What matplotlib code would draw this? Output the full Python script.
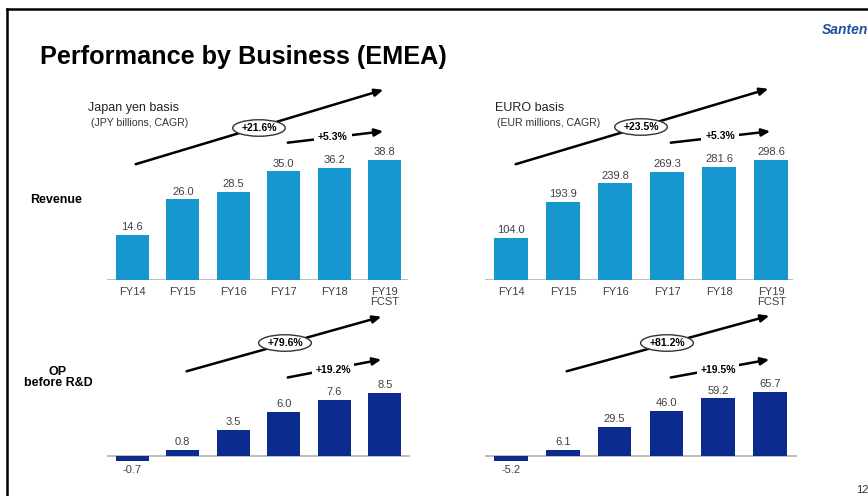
import matplotlib
matplotlib.use("Agg")
import matplotlib.pyplot as plt
from matplotlib.lines import Line2D

plt.rcParams['font.family'] = ['Liberation Sans', 'DejaVu Sans']

# ======================
# 数据
# ======================
years = ['FY14', 'FY15', 'FY16', 'FY17', 'FY18', 'FY19\nFCST']
rev_jpy = [14.6, 26.0, 28.5, 35.0, 36.2, 38.8]
rev_eur = [104.0, 193.9, 239.8, 269.3, 281.6, 298.6]
op_jpy = [-0.7, 0.8, 3.5, 6.0, 7.6, 8.5]
op_eur = [-5.2, 6.1, 29.5, 46.0, 59.2, 65.7]
cagr_long = ['+21.6%', '+23.5%', '+79.6%', '+81.2%']
cagr_short = ['+5.3%', '+5.3%', '+19.2%', '+19.5%']

W, H = 868, 496
REV_COLOR = '#1797cf'
OP_COLOR = '#0b2c8e'
LABEL_COLOR = '#404040'

fig = plt.figure(figsize=(W / 100, H / 100), dpi=100)


def fx(px):
    return px / W


def fy(py):
    return 1 - py / H


def make_axes(left, right, top, bottom, xlim, ylim):
    ax = fig.add_axes([fx(left), fy(bottom), fx(right - left), (bottom - top) / H])
    ax.set_xlim(*xlim)
    ax.set_ylim(*ylim)
    for s in ax.spines.values():
        s.set_visible(False)
    ax.set_yticks([])
    ax.patch.set_alpha(0)
    return ax


def draw_bars(ax, values, color, show_ticks):
    x = list(range(len(values)))
    ax.bar(x, values, width=0.65, color=color, zorder=2)
    ax.axhline(0, color='#b0b0b0', lw=1.2, zorder=1)
    for xi, v in zip(x, values):
        if v >= 0:
            ax.annotate(f'{v:.1f}', (xi, v), xytext=(0, 2), textcoords='offset points',
                        ha='center', va='bottom', fontsize=8, color=LABEL_COLOR)
        else:
            ax.annotate(f'{v:.1f}', (xi, v), xytext=(0, -3), textcoords='offset points',
                        ha='center', va='top', fontsize=8, color=LABEL_COLOR)
    if show_ticks:
        ax.set_xticks(x)
        ax.set_xticklabels(years, fontsize=8, color=LABEL_COLOR, linespacing=1.0)
        ax.tick_params(axis='x', length=0, pad=5)
    else:
        ax.set_xticks([])


# 上段：売上
ax1 = make_axes(107, 408, 150, 280, (-0.5, 5.46), (0, 41.9))
draw_bars(ax1, rev_jpy, REV_COLOR, True)
ax2 = make_axes(485, 793, 150, 280, (-0.5, 5.42), (0, 323))
draw_bars(ax2, rev_eur, REV_COLOR, True)

# 下段：OP before R&D
ax3 = make_axes(107, 410, 380, 470, (-0.5, 5.5), (-1.89, 10.27))
draw_bars(ax3, op_jpy, OP_COLOR, False)
ax4 = make_axes(485, 797, 380, 470, (-0.5, 5.52), (-14.4, 78.0))
draw_bars(ax4, op_eur, OP_COLOR, False)


# ======================
# CAGR 矢印
# ======================
def arrow(x0, y0, x1, y1):
    fig.add_artist(matplotlib.patches.FancyArrowPatch(
        (fx(x0), fy(y0)), (fx(x1), fy(y1)), transform=fig.transFigure,
        arrowstyle='-|>,head_length=5,head_width=2.2', color='black', lw=1.8,
        mutation_scale=1, zorder=5))


long_arrows = [(133, 165, 386, 89, 259, 128), (513, 165, 771, 88, 641, 127),
               (184, 372, 384, 316, 285, 343), (564, 372, 772, 315, 667, 343)]
short_arrows = [(285, 143, 386, 131, 333, 137), (668, 143, 773, 131, 720, 136),
                (285, 378, 384, 359, 333, 370), (668, 378, 772, 359, 718, 370)]

for (x0, y0, x1, y1, tx, ty), lab in zip(long_arrows, cagr_long):
    arrow(x0, y0, x1, y1)
    fig.text(fx(tx), fy(ty), lab, ha='center', va='center', fontsize=7.5, fontweight='bold',
             zorder=6, bbox=dict(boxstyle='ellipse,pad=0.08', fc='white', ec='#333333', lw=1.0))

for (x0, y0, x1, y1, tx, ty), lab in zip(short_arrows, cagr_short):
    arrow(x0, y0, x1, y1)
    fig.text(fx(tx), fy(ty), lab, ha='center', va='center', fontsize=7.5, fontweight='bold',
             zorder=6, bbox=dict(boxstyle='square,pad=0.35', fc='white', ec='none'))

# ======================
# テキスト
# ======================
fig.text(fx(40), fy(57), 'Performance by Business (EMEA)', fontsize=18.2, fontweight='bold',
         va='center', ha='left')
fig.text(fx(88), fy(108), 'Japan yen basis', fontsize=9, va='center', color='#222222')
fig.text(fx(91), fy(123), '(JPY billions, CAGR)', fontsize=7.6, va='center', color='#333333')
fig.text(fx(495), fy(108), 'EURO basis', fontsize=9, va='center', color='#222222')
fig.text(fx(497), fy(123), '(EUR millions, CAGR)', fontsize=7.6, va='center', color='#333333')
fig.text(fx(30), fy(200), 'Revenue', fontsize=9, fontweight='bold', va='center')
fig.text(fx(58), fy(372), 'OP', fontsize=9, fontweight='bold', va='center', ha='center')
fig.text(fx(58), fy(383), 'before R&D', fontsize=9, fontweight='bold', va='center', ha='center')
fig.text(fx(822), fy(30), 'Santen', fontsize=10, fontweight='bold', color='#1f4f9f',
         va='center', ha='left', style='italic')
fig.text(fx(856), fy(490), '12', fontsize=8, color='#333333', va='center', ha='left')

# 枠線
fig.add_artist(Line2D([fx(7), 1], [fy(9), fy(9)], color='black', lw=1.8))
fig.add_artist(Line2D([fx(7), fx(7)], [fy(9), 0], color='black', lw=1.8))

fig.savefig('out.png', dpi=100)
